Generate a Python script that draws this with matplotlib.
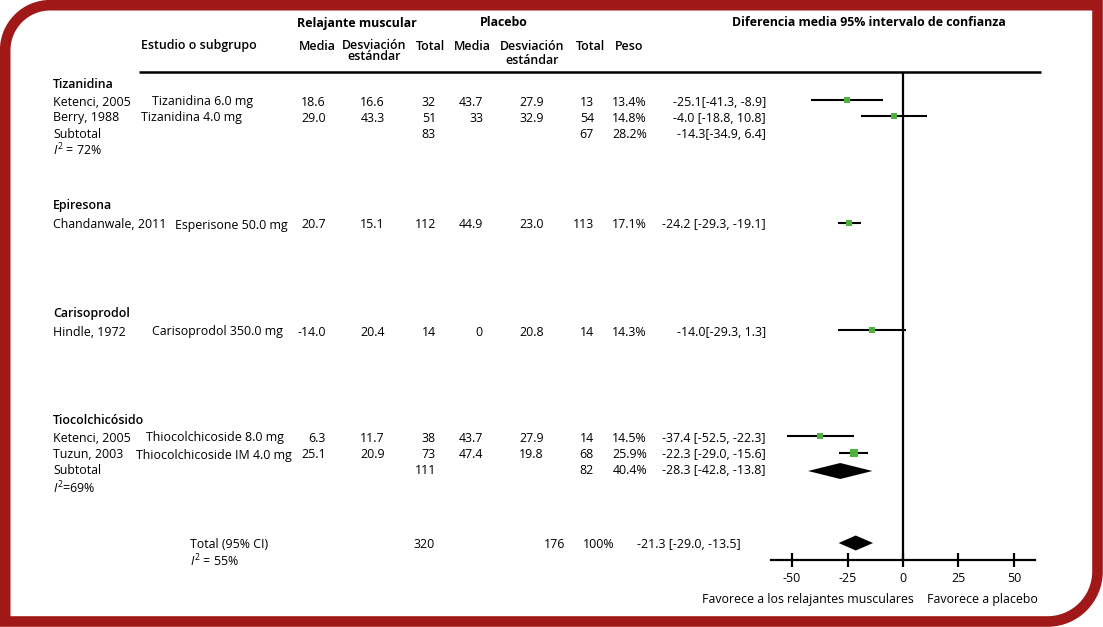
import matplotlib
matplotlib.use("Agg")
import matplotlib.pyplot as plt
from matplotlib.path import Path
from matplotlib.patches import PathPatch

plt.rcParams['font.family'] = ['Open Sans', 'DejaVu Sans']
plt.rcParams['mathtext.fontset'] = 'custom'
plt.rcParams['mathtext.rm'] = 'Open Sans'
plt.rcParams['mathtext.it'] = 'Open Sans:italic'

# ---- data ----
groups = ["Tizanidina", "Epiresona", "Carisoprodol", "Tiocolchicósido"]
study = ["Ketenci, 2005", "Berry, 1988", "Chandanwale, 2011", "Hindle, 1972",
         "Ketenci, 2005", "Tuzun, 2003"]
intervention = ["Tizanidina 6.0 mg", "Tizanidina 4.0 mg", "Esperisone 50.0 mg",
                "Carisoprodol 350.0 mg", "Thiocolchicoside 8.0 mg",
                "Thiocolchicoside IM 4.0 mg"]
rel_mean = ["18.6", "29.0", "20.7", "-14.0", "6.3", "25.1"]
rel_sd = ["16.6", "43.3", "15.1", "20.4", "11.7", "20.9"]
rel_n = [32, 51, 112, 14, 38, 73]
pla_mean = ["43.7", "33", "44.9", "0", "43.7", "47.4"]
pla_sd = ["27.9", "32.9", "23.0", "20.8", "27.9", "19.8"]
pla_n = [13, 54, 113, 14, 14, 68]
weight = [13.4, 14.8, 17.1, 14.3, 14.5, 25.9]
md = [-25.1, -4.0, -24.2, -14.0, -37.4, -22.3]
ci_lo = [-41.3, -18.8, -29.3, -29.3, -52.5, -29.0]
ci_hi = [-8.9, 10.8, -19.1, 1.3, -22.3, -15.6]
effect_txt = ["-25.1[-41.3, -8.9]", "-4.0 [-18.8, 10.8]", "-24.2 [-29.3, -19.1]",
              "-14.0[-29.3, 1.3]", "-37.4 [-52.5, -22.3]", "-22.3 [-29.0, -15.6]"]

# subtotals: Tizanidina, Tiocolchicósido
sub_rel_n = [83, 111]
sub_pla_n = [67, 82]
sub_weight = ["28.2%", "40.4%"]
sub_effect_txt = ["-14.3[-34.9, 6.4]", "-28.3 [-42.8, -13.8]"]
sub_i2 = [r"$I^2$ = 72%", r"$I^2$=69%"]
thio_md, thio_lo, thio_hi = -28.3, -42.8, -13.8

total_rel_n, total_pla_n = 320, 176
total_weight = "100%"
total_effect_txt = "-21.3 [-29.0, -13.5]"
total_i2 = r"$I^2$ = 55%"
total_md, total_lo, total_hi = -21.3, -29.0, -13.5

xticks = [-50, -25, 0, 25, 50]

# ---- layout (pixel rows) ----
W, H = 1103, 627
fs = 8.9
red = '#a01818'
green = '#4db33d'
group_y = [85, 206, 314, 421]
study_y = [102, 118, 225, 332, 438, 455]
interv_x = [152, 141, 175, 152, 146, 136]
sub_y = [134, 471]
i2_y = [150, 488]
col_x = dict(rel_mean=326, rel_sd=385, rel_n=436, pla_mean=483, pla_sd=544,
             pla_n=594, weight=647, effect=766)

fig = plt.figure(figsize=(W / 100, H / 100), dpi=100)
ax = fig.add_axes([0, 0, 1, 1])
ax.set_xlim(0, W)
ax.set_ylim(H, 0)
ax.axis('off')

# frame with rounded top-left and bottom-right corners
k = 0.5523
r1, r2 = 45, 50
L, T, R, B = 5.2, 5.2, 1097.5, 621.5
verts = [(L + r1, T), (R, T), (R, B - r2),
         (R, B - r2 + k * r2), (R - r2 + k * r2, B), (R - r2, B),
         (L, B), (L, T + r1),
         (L, T + r1 - k * r1), (L + r1 - k * r1, T), (L + r1, T),
         (L + r1, T)]
codes = [Path.MOVETO, Path.LINETO, Path.LINETO,
         Path.CURVE4, Path.CURVE4, Path.CURVE4,
         Path.LINETO, Path.LINETO,
         Path.CURVE4, Path.CURVE4, Path.CURVE4,
         Path.CLOSEPOLY]
ax.add_patch(PathPatch(Path(verts, codes), facecolor='none', edgecolor=red,
                       lw=10.6 * 0.72, joinstyle='miter'))

# headers
ax.text(357, 23, "Relajante muscular", fontsize=fs, weight='bold', ha='center', va='center')
ax.text(504, 23, "Placebo", fontsize=fs, weight='bold', ha='center', va='center')
ax.text(869, 23, "Diferencia media 95% intervalo de confianza", fontsize=fs,
        weight='bold', ha='center', va='center')
ax.text(141, 46, "Estudio o subgrupo", fontsize=fs, weight='semibold', ha='left', va='center')
for x, lab in [(317, "Media"), (430, "Total"), (472, "Media"), (590, "Total"), (629, "Peso")]:
    ax.text(x, 46, lab, fontsize=fs, weight='semibold', ha='center', va='center')
ax.text(374, 51, "Desviación\nestándar", fontsize=fs, weight='semibold', ha='center',
        va='center', linespacing=0.85)
ax.text(532, 46, "Desviación", fontsize=fs, weight='semibold', ha='center', va='center')
ax.text(532, 60, "estándar", fontsize=fs, weight='semibold', ha='center', va='center')
ax.hlines(72, 139, 1041, color='black', lw=1.8)

# group labels
for g, y in zip(groups, group_y):
    ax.text(53, y, g, fontsize=fs, weight='semibold', ha='left', va='center')

# study rows
for i, y in enumerate(study_y):
    ax.text(53, y, study[i], fontsize=fs, ha='left', va='center')
    ax.text(interv_x[i], y, intervention[i], fontsize=fs, ha='left', va='center')
    cells = [('rel_mean', rel_mean[i]), ('rel_sd', rel_sd[i]), ('rel_n', str(rel_n[i])),
             ('pla_mean', pla_mean[i]), ('pla_sd', pla_sd[i]), ('pla_n', str(pla_n[i])),
             ('weight', f"{weight[i]:.1f}%"), ('effect', effect_txt[i])]
    for key, txt in cells:
        ax.text(col_x[key], y, txt, fontsize=fs, ha='right', va='center')

# subtotal rows
for j, y in enumerate(sub_y):
    ax.text(53, y, "Subtotal", fontsize=fs, ha='left', va='center')
    ax.text(col_x['rel_n'], y, str(sub_rel_n[j]), fontsize=fs, ha='right', va='center')
    ax.text(col_x['pla_n'], y, str(sub_pla_n[j]), fontsize=fs, ha='right', va='center')
    ax.text(col_x['weight'], y, sub_weight[j], fontsize=fs, ha='right', va='center')
    ax.text(col_x['effect'], y, sub_effect_txt[j], fontsize=fs, ha='right', va='center')
    ax.text(53, i2_y[j], sub_i2[j], fontsize=fs, ha='left', va='center')

# total row
ax.text(190, 544, "Total (95% CI)", fontsize=fs, ha='left', va='center')
ax.text(190, 561, total_i2, fontsize=fs, ha='left', va='center')
ax.text(435, 544, str(total_rel_n), fontsize=fs, ha='right', va='center')
ax.text(565, 544, str(total_pla_n), fontsize=fs, ha='right', va='center')
ax.text(615, 544, total_weight, fontsize=fs, ha='right', va='center')
ax.text(741, 544, total_effect_txt, fontsize=fs, ha='right', va='center')

ax.text(808, 599, "Favorece a los relajantes musculares", fontsize=fs, ha='center', va='center')
ax.text(982, 599, "Favorece a placebo", fontsize=fs, ha='center', va='center')

# ---- forest plot ----
x0, x1 = 771, 1035
fax = fig.add_axes([x0 / W, 0, (x1 - x0) / W, 1])
fax.set_xlim(-59.5, 59.5)
fax.set_ylim(H, 0)
fax.patch.set_alpha(0)
for s in ['top', 'left', 'right']:
    fax.spines[s].set_visible(False)
fax.spines['bottom'].set_position(('data', 560))
fax.spines['bottom'].set_linewidth(1.6)
fax.set_yticks([])
fax.set_xticks(xticks)
fax.set_xticklabels([str(t) for t in xticks])
fax.tick_params(axis='x', direction='inout', length=10, width=1.6, labelsize=fs, pad=4)

fax.vlines(0, 72, 560, color='black', lw=1.6)
for i, y in enumerate(study_y):
    yy = y - 2
    fax.hlines(yy, ci_lo[i], ci_hi[i], color='black', lw=1.5)
    ms = (weight[i] ** 0.5) * 1.45 * 0.72
    fax.plot(md[i], yy, marker='s', ms=ms, color=green, mec=green, mew=0)

fax.fill([thio_lo, thio_md, thio_hi, thio_md], [471, 463, 471, 479], color='black', lw=0)
fax.fill([total_lo, total_md, total_hi, total_md], [543, 535.5, 543, 550.5], color='black', lw=0)

fig.savefig("out.png", dpi=100)
